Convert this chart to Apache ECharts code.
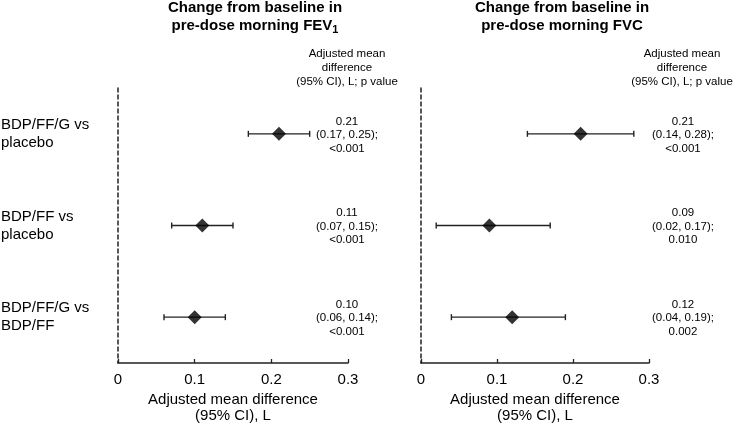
<!DOCTYPE html>
<html>
<head>
<meta charset="utf-8">
<script src="https://cdn.jsdelivr.net/npm/echarts@6/dist/echarts.min.js"></script>
<style>
  html, body { margin: 0; padding: 0; background: #fff; }
  #main { width: 734px; height: 425px; }
</style>
</head>
<body>
<div id="main"></div>
<script>
// rows, top to bottom
let categories = ['BDP/FF/G vs\nplacebo', 'BDP/FF vs\nplacebo', 'BDP/FF/G vs\nBDP/FF'];

// FEV1 panel
let fev1Mean = [0.21, 0.11, 0.10];
let fev1Low = [0.17, 0.07, 0.06];
let fev1High = [0.25, 0.15, 0.14];
let fev1P = ['<0.001', '<0.001', '<0.001'];

// FVC panel
let fvcMean = [0.21, 0.09, 0.12];
let fvcLow = [0.14, 0.02, 0.04];
let fvcHigh = [0.28, 0.17, 0.19];
let fvcP = ['<0.001', '0.010', '0.002'];

let xMin = 0;
let xMax = 0.3;
let xStep = 0.1;

let font = "'Liberation Sans', Arial, sans-serif";
let ink = '#000';

function fmt(v) {
    return v.toFixed(2);
}

// error bar with small caps at both ends
function errorBar(params, api) {
    let row = api.value(2);
    let lo = api.coord([api.value(0), row]);
    let hi = api.coord([api.value(1), row]);
    let cap = 3;
    let style = { stroke: '#222', lineWidth: 1.4 };
    return {
        type: 'group',
        children: [
            { type: 'line', shape: { x1: lo[0], y1: lo[1], x2: hi[0], y2: hi[1] }, style: style },
            { type: 'line', shape: { x1: lo[0], y1: lo[1] - cap, x2: lo[0], y2: lo[1] + cap }, style: style },
            { type: 'line', shape: { x1: hi[0], y1: hi[1] - cap, x2: hi[0], y2: hi[1] + cap }, style: style }
        ]
    };
}

// text column to the right of each panel
function valueText(texts, dx) {
    return function (params, api) {
        let pt = api.coord([api.value(0), api.value(1)]);
        let cs = params.coordSys;
        return {
            type: 'text',
            x: cs.x + cs.width + dx,
            y: pt[1] + 1,
            style: {
                text: texts[params.dataIndex],
                fill: ink,
                font: '11.5px ' + font,
                lineHeight: 13.5,
                align: 'center',
                verticalAlign: 'middle'
            }
        };
    };
}

function labelsFor(mean, low, high, p) {
    return mean.map(function (m, i) {
        return fmt(m) + '\n(' + fmt(low[i]) + ', ' + fmt(high[i]) + ');\n' + p[i];
    });
}

function xAxisFor(gridIndex) {
    return {
        type: 'value',
        gridIndex: gridIndex,
        min: xMin,
        max: xMax,
        interval: xStep,
        splitLine: { show: false },
        axisLine: { show: true, lineStyle: { color: '#222', width: 1.5 } },
        axisTick: { show: true, inside: true, length: 4, lineStyle: { color: '#222', width: 1.3 } },
        axisLabel: {
            color: ink, fontSize: 15, fontFamily: font, margin: 9,
            formatter: function (v) { return String(Math.round(v * 10) / 10); }
        },
        name: 'Adjusted mean difference\n(95% CI), L',
        nameLocation: 'middle',
        nameGap: 28,
        nameTextStyle: { color: ink, fontSize: 15, fontFamily: font, lineHeight: 16 }
    };
}

function yAxisFor(gridIndex, showLabels) {
    return {
        type: 'category',
        gridIndex: gridIndex,
        data: categories,
        inverse: true,
        axisTick: { show: false },
        splitLine: { show: false },
        axisLine: { show: true, lineStyle: { color: '#222', width: 1.5, type: [4, 3] } },
        axisLabel: {
            show: showLabels,
            align: 'left',
            margin: 117,
            color: ink,
            fontSize: 15,
            fontFamily: font,
            lineHeight: 18,
            padding: [2, 0, 0, 0]
        }
    };
}

function rows(a, b) {
    return a.map(function (v, i) { return [v, b[i], i]; });
}

let fev1Labels = labelsFor(fev1Mean, fev1Low, fev1High, fev1P);
let fvcLabels = labelsFor(fvcMean, fvcLow, fvcHigh, fvcP);

let myChart = echarts.init(document.getElementById('main'));

let headText = 'Adjusted mean\ndifference\n(95% CI), L; p value';
let titleRich = {
    sub: { fontSize: 11, fontWeight: 'bold', fontFamily: font, fill: ink, lineHeight: 11, verticalAlign: 'bottom' }
};

let option = {
    backgroundColor: '#fff',
    animation: false,
    grid: [
        { left: 118, right: 386, top: 88, bottom: 62, containLabel: false, outerBoundsMode: 'none' },
        { left: 421, right: 85, top: 88, bottom: 62, containLabel: false, outerBoundsMode: 'none' }
    ],
    xAxis: [xAxisFor(0), xAxisFor(1)],
    yAxis: [yAxisFor(0, true), yAxisFor(1, false)],
    graphic: [
        {
            type: 'text', x: 255, y: -1,
            style: {
                text: 'Change from baseline in\npre-dose morning FEV{sub|1}',
                font: 'bold 15px ' + font, fill: ink, lineHeight: 18,
                align: 'center', verticalAlign: 'top', rich: titleRich
            }
        },
        {
            type: 'text', x: 562, y: -1,
            style: {
                text: 'Change from baseline in\npre-dose morning FVC',
                font: 'bold 15px ' + font, fill: ink, lineHeight: 18,
                align: 'center', verticalAlign: 'top'
            }
        },
        {
            type: 'text', x: 347, y: 47,
            style: { text: headText, font: '11.5px ' + font, fill: ink, lineHeight: 14, align: 'center', verticalAlign: 'top' }
        },
        {
            type: 'text', x: 682, y: 47,
            style: { text: headText, font: '11.5px ' + font, fill: ink, lineHeight: 14, align: 'center', verticalAlign: 'top' }
        }
    ],
    series: [
        {
            type: 'custom', xAxisIndex: 0, yAxisIndex: 0,
            renderItem: errorBar, encode: { x: [0, 1], y: 2 },
            data: rows(fev1Low, fev1High), z: 2
        },
        {
            type: 'scatter', xAxisIndex: 0, yAxisIndex: 0,
            symbol: 'diamond', symbolSize: [14, 14],
            itemStyle: { color: '#000' },
            data: fev1Mean.map(function (v, i) { return [v, i]; }), z: 3
        },
        {
            type: 'custom', xAxisIndex: 0, yAxisIndex: 0,
            renderItem: valueText(fev1Labels, -1), encode: { x: 0, y: 1 },
            data: fev1Mean.map(function (v, i) { return [v, i]; })
        },
        {
            type: 'custom', xAxisIndex: 1, yAxisIndex: 1,
            renderItem: errorBar, encode: { x: [0, 1], y: 2 },
            data: rows(fvcLow, fvcHigh), z: 2
        },
        {
            type: 'scatter', xAxisIndex: 1, yAxisIndex: 1,
            symbol: 'diamond', symbolSize: [14, 14],
            itemStyle: { color: '#000' },
            data: fvcMean.map(function (v, i) { return [v, i]; }), z: 3
        },
        {
            type: 'custom', xAxisIndex: 1, yAxisIndex: 1,
            renderItem: valueText(fvcLabels, 34), encode: { x: 0, y: 1 },
            data: fvcMean.map(function (v, i) { return [v, i]; })
        }
    ]
};

myChart.setOption(option, true);
</script>
</body>
</html>
